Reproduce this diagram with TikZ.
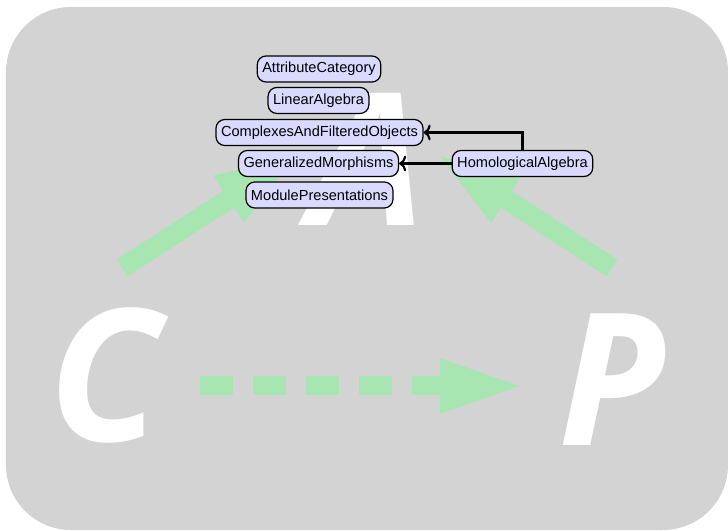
\documentclass[tikz,border=0pt]{standalone}
\usepackage{fontspec}
\setmainfont{Liberation Sans}
\newfontfamily\letterfont{Open Sans}
\usetikzlibrary{arrows.meta}
\definecolor{cGray}{HTML}{D3D3D3}
\definecolor{cGreen}{HTML}{A8E6B1}
\definecolor{cLavender}{HTML}{DADAFF}

\begin{document}
\begin{tikzpicture}[
  every node/.style={font=\fontsize{8.3}{9.9}\selectfont},
  pkg/.style={draw=black, fill=cLavender, rounded corners=5pt, line width=0.7pt, inner xsep=0.1cm, inner ysep=0pt, minimum height=0.52cm},
  letter/.style={text=white, inner sep=0pt, anchor=base, font=\letterfont\bfseries\itshape\fontsize{105}{105}\selectfont},
  bigarrow/.style={cGreen, line width=0.4cm, -{Triangle[length=1.7cm, width=0.98cm]}},
  dep/.style={-{To[length=4pt, width=9pt]}, line width=1.2pt},
]

\useasboundingbox (0,0) rectangle (14.56,10.6);
\fill[cGray, rounded corners=1.3cm] (0.12,0) rectangle (14.56,10.46);

% big letters
\node[letter] (C) at (2.1,1.76) {C};
\node[letter] (A) at (7.35,6.08) {A};
\node[letter] (P) at (12.25,1.7) {P};

\coordinate (ltail) at (2.44,5.24);
\coordinate (ltip) at (6.0,7.54);
\coordinate (rtail) at (12.24,5.24);
\coordinate (rtip) at (8.7,7.54);
\coordinate (cpstart) at (4.0,2.88);
\coordinate (cpend) at (10.5,2.88);

\draw[bigarrow] (ltail) -- (ltip);
\draw[bigarrow] (rtail) -- (rtip);
\draw[bigarrow, line width=0.38cm, dash pattern=on 0.66cm off 0.4cm] (cpstart) -- (cpend);

% packages
\node[pkg] (attr) at (6.38,9.22) {AttributeCategory};
\node[pkg] (linalg) at (6.37,8.59) {LinearAlgebra};
\node[pkg] (cplx) at (6.39,7.95) {ComplexesAndFilteredObjects};
\node[pkg] (genmor) at (6.37,7.33) {GeneralizedMorphisms};
\node[pkg] (modpres) at (6.39,6.70) {ModulePresentations};
\node[pkg] (homalg) at (10.45,7.33) {HomologicalAlgebra};

\draw[dep] (homalg.north) |- (cplx.east);
\draw[dep] (homalg.west) -- (genmor.east);

\end{tikzpicture}
\end{document}
